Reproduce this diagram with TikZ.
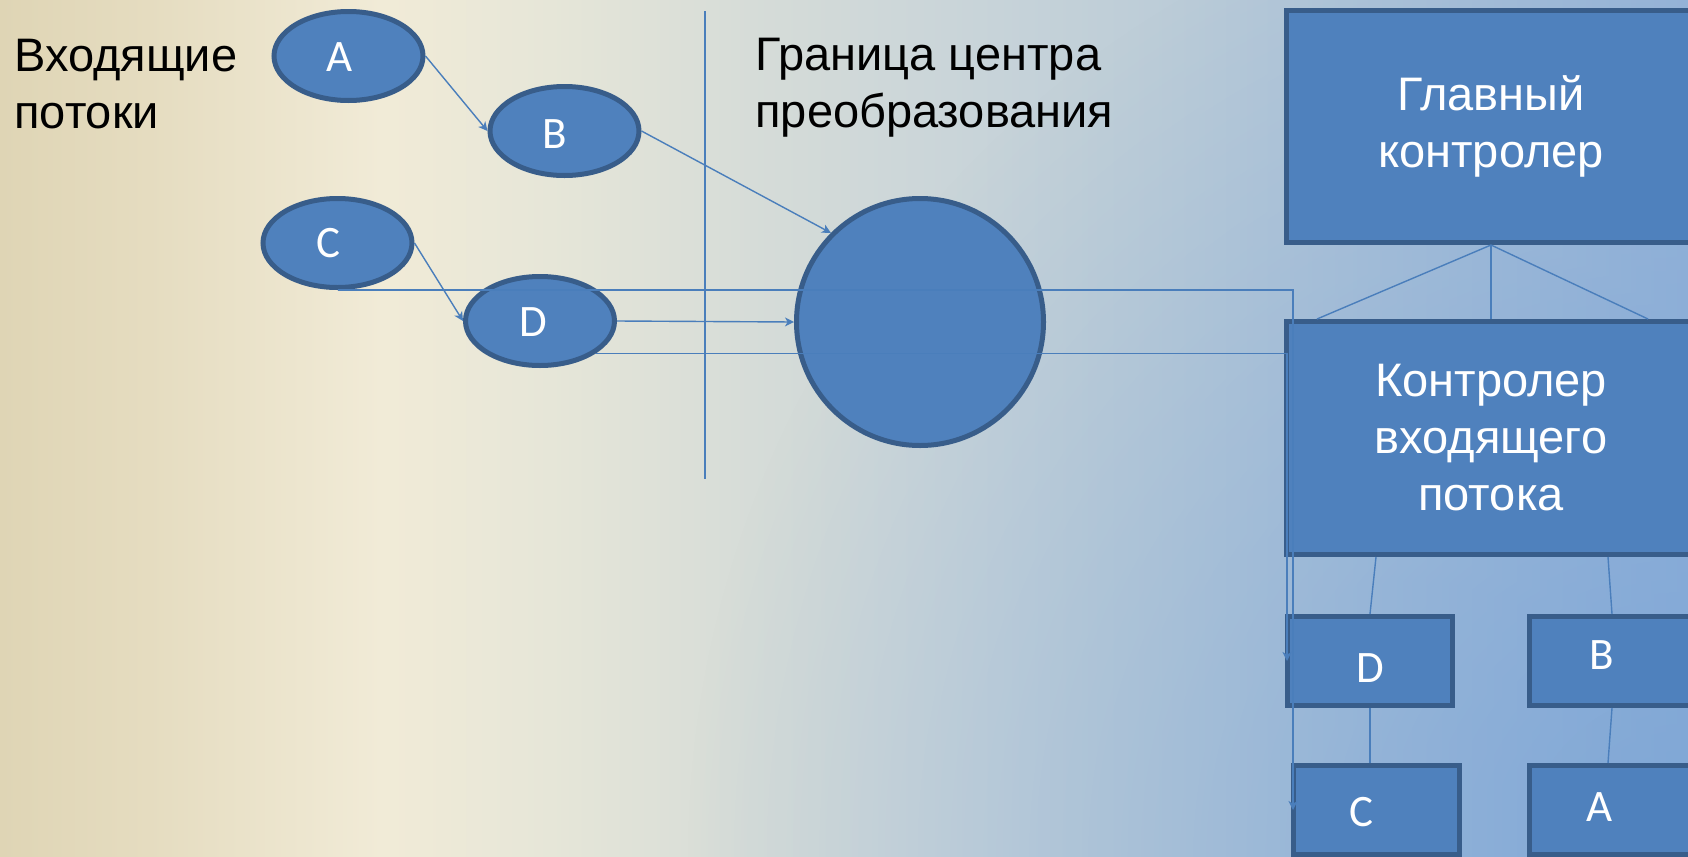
\documentclass[tikz,border=0pt]{standalone}
\usepackage{fontspec}
\setmainfont{Liberation Sans}
\newfontfamily\lettersfont{Carlito}
\usetikzlibrary{arrows.meta,shapes.geometric,fadings}

\definecolor{shapefill}{HTML}{4F81BD}
\definecolor{shapeedge}{HTML}{385D8A}
\definecolor{linkc}{HTML}{4A7EBB}
\definecolor{bgA}{HTML}{DFD5B5}
\definecolor{bgB}{HTML}{E5DCC0}
\definecolor{bgC}{HTML}{F1EBD7}
\definecolor{bgD}{HTML}{E6E6D8}
\definecolor{bgE}{HTML}{D6DCD8}
\definecolor{bgF}{HTML}{CAD5D9}
\definecolor{bgG}{HTML}{BDCDD8}
\definecolor{bgH}{HTML}{B2C6D8}
\definecolor{bgI}{HTML}{98B5D8}
\definecolor{bgdeep}{HTML}{6E9DD6}

% slide background, left (sand) to right (blue)
\pgfdeclarehorizontalshading{slidebg}{100bp}{color(0bp)=(bgA); color(25bp)=(bgA);
  color(29.4bp)=(bgB); color(36.3bp)=(bgC); color(41.3bp)=(bgD); color(47.2bp)=(bgE);
  color(53.1bp)=(bgF); color(59.1bp)=(bgG); color(63.5bp)=(bgH); color(75bp)=(bgI);
  color(100bp)=(bgI)}
% deeper blue towards the lower right corner
\tikzfading[name=cornerglow, inner color=transparent!40, outer color=transparent!100]

\begin{document}
\begin{tikzpicture}[x=0.5pt,y=-0.5pt,
  flow/.style={ellipse, draw=shapeedge, fill=shapefill, line width=2.5pt,
    minimum width=74.5pt, minimum height=44.5pt, inner sep=0pt},
  hubnode/.style={circle, draw=shapeedge, fill=shapefill, line width=2.5pt,
    minimum size=123.5pt, inner sep=0pt},
  block/.style={rectangle, draw=shapeedge, fill=shapefill, line width=2.5pt,
    inner sep=0pt, text=white, align=center,
    font=\fontsize{23.5pt}{28.5pt}\selectfont},
  letter/.style={text=white, inner sep=0pt,
    font=\lettersfont\fontsize{22.5pt}{26pt}\selectfont},
  caption/.style={text=black, inner sep=0pt, align=left,
    font=\fontsize{23.5pt}{28.5pt}\selectfont},
  link/.style={draw=linkc, line width=0.7pt},
  tip/.style={-{Stealth[length=4.5pt,width=4.5pt,inset=1.3pt]}}
]
\useasboundingbox (0,0) rectangle (1688,857);
\begin{scope}
  \clip (0,0) rectangle (1688,857);
  \shade[shading=slidebg] (0,0) rectangle (1688,857);
  \fill[bgdeep, path fading=cornerglow] (1688,857) circle (1000);
\end{scope}

% captions (anchored on the baseline of the last line)
\node[caption, anchor=base west] (incap) at (14,128) {Входящие\\потоки};
\node[caption, anchor=base west] (bordercap) at (755,127) {Граница центра\\преобразования};

% boundary of the transform centre
\coordinate (divtop) at (705,11);
\coordinate (divbot) at (705,479);
\draw[link] (divtop) -- (divbot);

% incoming flows
\node[flow, label={[letter,xshift=-4.25pt,yshift=-0.75pt]center:A}] (A) at (348.5,56) {};
\node[flow, label={[letter,xshift=-4.75pt,yshift=-1.5pt]center:B}] (B) at (564.5,131) {};
\node[flow, label={[letter,xshift=-4.75pt]center:C}] (C) at (337.5,243) {};
\node[flow, label={[letter,xshift=-3.5pt,yshift=-0.5pt]center:D}] (D) at (540,321) {};

% transform centre
\node[hubnode] (hub) at (920,322) {};

% controllers
\node[block, minimum width=204.5pt, minimum height=116pt] (main) at (1491,126.5) {Главный\\контролер};
\node[block, minimum width=204.5pt, minimum height=116.5pt] (ctrl) at (1491,438) {Контролер\\входящего\\потока};

\node[block, minimum width=82.5pt, minimum height=44.5pt,
  label={[letter,yshift=-3.5pt]center:D}] (dbox) at (1370,661) {};
\node[block, minimum width=100pt, minimum height=44.5pt,
  label={[letter,xshift=-13.75pt,yshift=3pt]center:B}] (bbox) at (1629.5,661) {};
\node[block, minimum width=83pt, minimum height=44.5pt,
  label={[letter,xshift=-7.75pt,yshift=-1pt]center:C}] (cbox) at (1376.5,810) {};
\node[block, minimum width=100pt, minimum height=44.5pt,
  label={[letter,xshift=-14.75pt,yshift=1.5pt]center:A}] (abox) at (1629.5,810) {};

% flow connections
\draw[link, tip] (A.east) -- (B.west);
\draw[link, tip] (C.east) -- (D.west);
\draw[link, tip] (B.east) -- (hub.135);
\draw[link, tip] (D.east) -- (hub.west);
\draw[link, tip] (C.south) -| ([xshift=1pt]cbox.west);
\draw[link, tip] (D.-30) -| ([xshift=1pt]dbox.west);

% controller hierarchy
\draw[link] (main.south) -- ([xshift=-87pt]ctrl.north);
\draw[link] (main.south) -- (ctrl.north);
\draw[link] (main.south) -- ([xshift=78.5pt]ctrl.north);
\draw[link] ([xshift=-57.5pt]ctrl.south) -- (dbox.north);
\draw[link] ([xshift=58.5pt]ctrl.south) -- ([xshift=-8.75pt]bbox.north);
\draw[link] (dbox.south) -- (dbox.south |- cbox.north);
\draw[link] ([xshift=-8.75pt]bbox.south) -- ([xshift=-10.75pt]abox.north);
\end{tikzpicture}
\end{document}
